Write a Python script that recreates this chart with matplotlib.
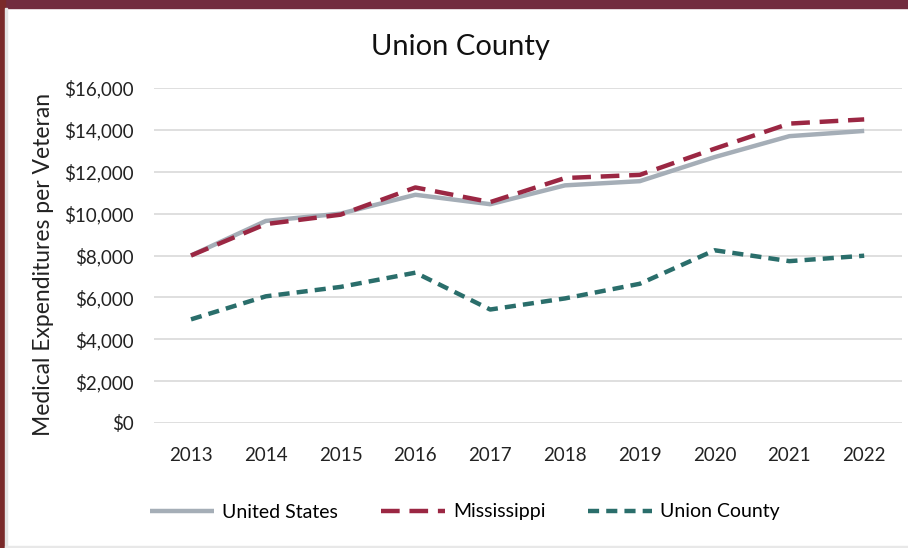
import matplotlib.pyplot as plt
from matplotlib.patches import Rectangle
from matplotlib.ticker import FuncFormatter

plt.rcParams['font.family'] = ['Lato', 'DejaVu Sans']

years = ["2013", "2014", "2015", "2016", "2017", "2018", "2019", "2020", "2021", "2022"]
us = [8000, 9650, 10000, 10900, 10450, 11350, 11550, 12700, 13700, 13950]
mississippi = [8000, 9500, 9950, 11250, 10550, 11700, 11850, 13100, 14300, 14500]
union_county = [4950, 6050, 6500, 7180, 5420, 5950, 6650, 8250, 7730, 7990]

fig = plt.figure(figsize=(9.08, 5.48), dpi=100)
fig.patch.set_facecolor("white")

# frame around the chart
fig.patches.append(Rectangle((0, 1 - 8 / 548), 1, 8 / 548, transform=fig.transFigure,
                             color="#722c3f", zorder=0))
fig.patches.append(Rectangle((0, 0), 5 / 908, 1, transform=fig.transFigure,
                             color="#7a2a2a", zorder=0))
fig.patches.append(Rectangle((5 / 908, 0), 2 / 908, 1 - 8 / 548, transform=fig.transFigure,
                             color="#e4e4e4", zorder=0))
fig.patches.append(Rectangle((5 / 908, 0), 1, 2 / 548, transform=fig.transFigure,
                             color="#e8e8e8", zorder=0))

ax = fig.add_axes([153.6 / 908, 1 - 423 / 548, 748 / 908, 335 / 548])
x = range(len(years))
ax.plot(x, us, color="#a5aeb7", lw=3.2, solid_capstyle="butt", label="United States", zorder=3)
ax.plot(x, mississippi, color="#9b2743", lw=3.2, dashes=(4.2, 2.2), label="Mississippi", zorder=4)
ax.plot(x, union_county, color="#2a6e6b", lw=3.2, dashes=(2.5, 1.6), label="Union County", zorder=4)

ax.set_xlim(-0.5, len(years) - 0.5)
ax.set_ylim(0, 16000)
ax.set_yticks(range(0, 16001, 2000))
ax.yaxis.set_major_formatter(FuncFormatter(lambda v, p: f"${v:,.0f}"))
ax.set_xticks(list(x))
ax.set_xticklabels(years)
ax.grid(axis="y", color="#d9d9d9", lw=1.2)
ax.set_axisbelow(True)
for s in ["top", "right", "left", "bottom"]:
    ax.spines[s].set_visible(False)
ax.tick_params(length=0, labelsize=13.5, colors="#222222")
ax.tick_params(axis="y", pad=14)
ax.tick_params(axis="x", pad=17)
ax.set_ylabel("Medical Expenditures per Veteran", fontsize=16.5, color="#222222")
ax.yaxis.set_label_coords((54 - 153.6) / 748, (423 - 264) / 335)

fig.text(460 / 908, 1 - 47 / 548, "Union County", fontsize=21, ha="center", va="center",
         color="#111111")

fig.legend(loc="center", bbox_to_anchor=(465 / 908, 1 - 512 / 548), ncol=3, frameon=False,
           fontsize=14, handlelength=3.3, columnspacing=2.2, handletextpad=0.4)

fig.savefig("out.png", dpi=100)
